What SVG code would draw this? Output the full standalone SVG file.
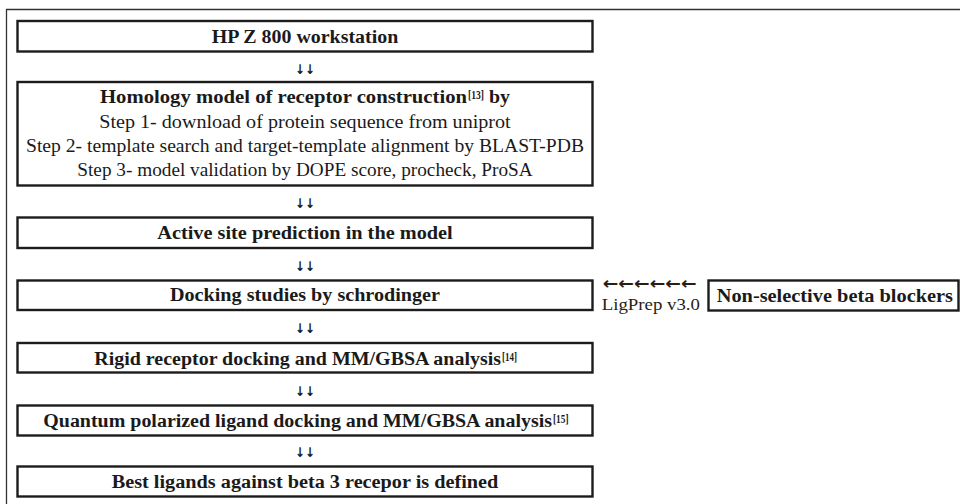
<svg xmlns="http://www.w3.org/2000/svg" width="960" height="504" viewBox="0 0 960 504">
<style>
.box{fill:#fff;stroke:#1c1c1c;stroke-width:2.4}
.t{font-family:"Liberation Serif","Times New Roman",serif;font-size:18.5px;fill:#1a1a1a}
.b{font-weight:bold}
.sup{font-family:"Liberation Serif","Times New Roman",serif;font-size:13.5px;font-weight:bold;fill:#1a1a1a}
.arr{font-family:"DejaVu Sans",sans-serif;font-size:13.5px;font-weight:bold;fill:#1a1a1a}
.larr{font-family:"DejaVu Sans",sans-serif;font-size:17px;font-weight:bold;fill:#2b1d14}
.lbl{font-family:"Liberation Serif","Times New Roman",serif;font-size:17.5px;fill:#2b1d14}
</style>
<rect x="0" y="0" width="960" height="504" fill="#fff"/>
<path d="M6.5,504 V9.5 H960" fill="none" stroke="#333" stroke-width="1.3"/>
<g id="n1">
<rect class="box" x="17.5" y="21" width="575" height="30.5"/>
<text class="t b" x="211.7" y="43" textLength="186.6" lengthAdjust="spacingAndGlyphs">HP Z 800 workstation</text>
</g>
<g id="n2">
<rect class="box" x="17.5" y="82" width="575" height="103.5"/>
<text class="t b" x="100" y="103" textLength="367" lengthAdjust="spacingAndGlyphs">Homology model of receptor construction</text>
<text class="sup" x="468" y="99" textLength="16" lengthAdjust="spacingAndGlyphs">[13]</text>
<text class="t b" x="489" y="103" textLength="21" lengthAdjust="spacingAndGlyphs">by</text>
<text class="t" x="99.3" y="127.5" textLength="411.4" lengthAdjust="spacingAndGlyphs">Step 1- download of protein sequence from uniprot</text>
<text class="t" x="26" y="152" textLength="558" lengthAdjust="spacingAndGlyphs">Step 2- template search and target-template alignment by BLAST-PDB</text>
<text class="t" x="77.3" y="176" textLength="455.4" lengthAdjust="spacingAndGlyphs">Step 3- model validation by DOPE score, procheck, ProSA</text>
</g>
<g id="n3">
<rect class="box" x="17.5" y="217.5" width="575" height="30.5"/>
<text class="t b" x="157.3" y="239" textLength="295.4" lengthAdjust="spacingAndGlyphs">Active site prediction in the model</text>
</g>
<g id="n4">
<rect class="box" x="17.5" y="280.5" width="575" height="29.5"/>
<text class="t b" x="170" y="301" textLength="270" lengthAdjust="spacingAndGlyphs">Docking studies by schrodinger</text>
</g>
<g id="n5">
<rect class="box" x="17.5" y="343" width="575" height="29.5"/>
<text class="t b" x="94.3" y="364.5" textLength="406.7" lengthAdjust="spacingAndGlyphs">Rigid receptor docking and MM/GBSA analysis</text>
<text class="sup" x="502" y="360.5" textLength="15" lengthAdjust="spacingAndGlyphs">[14]</text>
</g>
<g id="n6">
<rect class="box" x="17.5" y="405.5" width="575" height="30"/>
<text class="t b" x="43.3" y="427" textLength="508.7" lengthAdjust="spacingAndGlyphs">Quantum polarized ligand docking and MM/GBSA analysis</text>
<text class="sup" x="553" y="423" textLength="15.5" lengthAdjust="spacingAndGlyphs">[15]</text>
</g>
<g id="n7">
<rect class="box" x="17.5" y="466.5" width="575" height="30"/>
<text class="t b" x="111.7" y="488" textLength="386.6" lengthAdjust="spacingAndGlyphs">Best ligands against beta 3 recepor is defined</text>
</g>
<g id="n8">
<rect class="box" x="708.5" y="280.5" width="250" height="30"/>
<text class="t b" x="716.7" y="302" textLength="236.3" lengthAdjust="spacingAndGlyphs">Non-selective beta blockers</text>
</g>
<g id="connectors">
<text class="arr" x="295" y="74" textLength="20" lengthAdjust="spacingAndGlyphs">↓↓</text>
<text class="arr" x="295" y="208" textLength="20" lengthAdjust="spacingAndGlyphs">↓↓</text>
<text class="arr" x="295" y="270.5" textLength="20" lengthAdjust="spacingAndGlyphs">↓↓</text>
<text class="arr" x="295" y="333" textLength="20" lengthAdjust="spacingAndGlyphs">↓↓</text>
<text class="arr" x="295" y="395.5" textLength="20" lengthAdjust="spacingAndGlyphs">↓↓</text>
<text class="arr" x="295" y="457" textLength="20" lengthAdjust="spacingAndGlyphs">↓↓</text>
<text class="larr" x="602.7" y="289" textLength="94" lengthAdjust="spacingAndGlyphs">←←←←←←</text>
<text class="lbl" x="601.7" y="310" textLength="98.3" lengthAdjust="spacingAndGlyphs">LigPrep v3.0</text>
</g>
</svg>
